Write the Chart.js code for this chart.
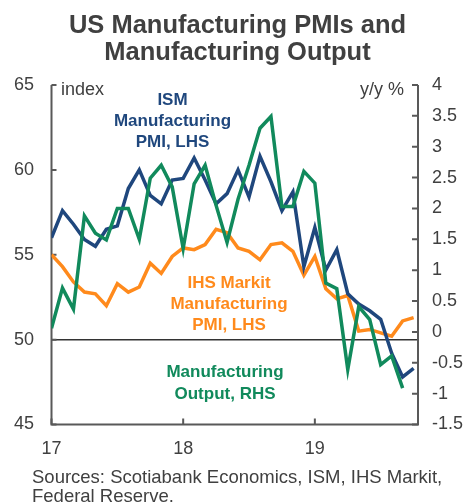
<!DOCTYPE html>
<html>
<head>
<meta charset="utf-8">
<script src="https://cdn.jsdelivr.net/npm/chart.js@4/dist/chart.umd.min.js"></script>
<style>
  html, body { margin: 0; padding: 0; background: #ffffff; }
  #wrap { width: 471px; height: 504px; }
</style>
</head>
<body>
<div id="wrap"><canvas id="c" width="471" height="504"></canvas></div>
<script>
// Monthly data, Jan 2017 .. Oct 2019
const monthIndex = Array.from({length: 34}, (_, i) => i);
const yearTickLabels = ['17', '18', '19'];
const yearTickValues = [0, 12, 24];

const ismPMI = [56.0, 57.6, 56.8, 55.9, 55.5, 56.5, 56.7, 58.9, 60.0, 58.5, 58.0, 59.4,
                59.5, 60.7, 59.4, 58.0, 58.6, 60.0, 58.4, 60.8, 59.3, 57.6, 58.7, 54.3,
                56.6, 54.1, 55.3, 52.7, 52.1, 51.7, 51.2, 49.2, 47.8, 48.3];
const ihsPMI = [55.0, 54.3, 53.4, 52.8, 52.7, 52.0, 53.3, 52.8, 53.1, 54.5, 53.9, 54.9,
                55.4, 55.3, 55.6, 56.5, 56.3, 55.4, 55.2, 54.7, 55.6, 55.7, 55.2, 53.8,
                54.9, 53.0, 52.4, 52.6, 50.5, 50.6, 50.4, 50.2, 51.1, 51.3];
const mfgOutput = [0.06, 0.71, 0.37, 1.88, 1.60, 1.49, 2.00, 2.00, 1.50, 2.49, 2.70, 2.35,
                   1.35, 2.40, 2.70, 2.05, 1.45, 2.15, 2.70, 3.30, 3.49, 2.03, 2.03, 2.60,
                   2.41, 0.79, 0.70, -0.61, 0.41, 0.20, -0.53, -0.39, -0.91];

const leftTicks = [45, 50, 55, 60, 65];
const rightMin = -1.5, rightMax = 4;

const COL_ISM = '#1F477D';
const COL_IHS = '#FF8A1C';
const COL_OUT = '#118A5C';
const TXT = '#404040';
const AXIS = '#595959';
const FONT = "'Liberation Sans', Arial, sans-serif";

const toPts = arr => arr.map((v, i) => ({x: monthIndex[i], y: v}));

const decorPlugin = {
  id: 'decor',
  beforeDatasetsDraw(chart) {
    const ctx = chart.ctx;
    const a = chart.chartArea;
    const yL = chart.scales.y;
    const yR = chart.scales.y2;
    const x = chart.scales.x;
    ctx.save();
    // 50 reference line
    const y50 = yL.getPixelForValue(50);
    ctx.strokeStyle = '#333333';
    ctx.lineWidth = 1.5;
    ctx.beginPath();
    ctx.moveTo(a.left, y50);
    ctx.lineTo(a.right, y50);
    ctx.stroke();
    // axes
    ctx.strokeStyle = AXIS;
    ctx.lineWidth = 2;
    ctx.beginPath();
    ctx.moveTo(a.left, a.top);
    ctx.lineTo(a.left, a.bottom);
    ctx.lineTo(a.right, a.bottom);
    ctx.lineTo(a.right, a.top);
    ctx.stroke();
    // inward tick marks
    ctx.beginPath();
    yL.ticks.forEach(t => {
      const p = yL.getPixelForValue(t.value);
      ctx.moveTo(a.left, p); ctx.lineTo(a.left + 5, p);
    });
    yR.ticks.forEach(t => {
      const p = yR.getPixelForValue(t.value);
      ctx.moveTo(a.right, p); ctx.lineTo(a.right - 6, p);
    });
    yearTickValues.forEach(v => {
      const p = x.getPixelForValue(v);
      ctx.moveTo(p, a.bottom); ctx.lineTo(p, a.bottom - 6);
    });
    ctx.stroke();
    ctx.restore();
  },
  afterDraw(chart) {
    const ctx = chart.ctx;
    ctx.save();
    // Title
    ctx.fillStyle = TXT;
    ctx.textAlign = 'center';
    ctx.textBaseline = 'alphabetic';
    ctx.font = "bold 25.5px " + FONT;
    ctx.fillText('US Manufacturing PMIs and', 237.5, 33);
    ctx.fillText('Manufacturing Output', 237.5, 60);
    // axis unit labels
    ctx.font = "18px " + FONT;
    ctx.textAlign = 'left';
    ctx.fillText('index', 61, 95);
    ctx.textAlign = 'right';
    ctx.fillText('y/y %', 404, 95);
    // series annotations
    ctx.font = "bold 17px " + FONT;
    ctx.textAlign = 'center';
    ctx.fillStyle = COL_ISM;
    ctx.fillText('ISM', 172.5, 105);
    ctx.fillText('Manufacturing', 172.5, 126);
    ctx.fillText('PMI, LHS', 172.5, 147);
    ctx.fillStyle = COL_IHS;
    ctx.fillText('IHS Markit', 229, 288);
    ctx.fillText('Manufacturing', 229, 309);
    ctx.fillText('PMI, LHS', 229, 330);
    ctx.fillStyle = COL_OUT;
    ctx.fillText('Manufacturing', 225, 377);
    ctx.fillText('Output, RHS', 225, 399);
    // source
    ctx.fillStyle = TXT;
    ctx.font = "18.5px " + FONT;
    ctx.textAlign = 'left';
    ctx.fillText('Sources: Scotiabank Economics, ISM, IHS Markit,', 32, 483);
    ctx.fillText('Federal Reserve.', 32, 502);
    ctx.restore();
  }
};

new Chart(document.getElementById('c'), {
  type: 'line',
  data: {
    datasets: [
      { label: 'Manufacturing Output, RHS', data: toPts(mfgOutput), yAxisID: 'y2',
        borderColor: COL_OUT, borderWidth: 3.5, pointRadius: 0, tension: 0, fill: false },
      { label: 'ISM Manufacturing PMI, LHS', data: toPts(ismPMI), yAxisID: 'y',
        borderColor: COL_ISM, borderWidth: 3.5, pointRadius: 0, tension: 0, fill: false },
      { label: 'IHS Markit Manufacturing PMI, LHS', data: toPts(ihsPMI), yAxisID: 'y',
        borderColor: COL_IHS, borderWidth: 3.5, pointRadius: 0, tension: 0, fill: false }
    ]
  },
  options: {
    responsive: false,
    animation: false,
    devicePixelRatio: 1,
    layout: { padding: { top: 85, left: 0, right: 0, bottom: 0 } },
    plugins: { legend: { display: false }, title: { display: false }, tooltip: { enabled: false } },
    scales: {
      x: {
        type: 'linear', min: 0, max: 33.4,
        grid: { display: false, drawTicks: false },
        border: { display: false },
        afterBuildTicks: s => { s.ticks = yearTickValues.map(v => ({value: v})); },
        afterFit: s => { s.height = 79.5; },
        ticks: {
          padding: 14, color: TXT, font: { family: FONT, size: 18 },
          maxRotation: 0, autoSkip: false,
          callback: v => { const i = yearTickValues.indexOf(v); return i >= 0 ? yearTickLabels[i] : ''; }
        }
      },
      y: {
        type: 'linear', position: 'left', min: 45, max: 65,
        grid: { display: false, drawTicks: false },
        border: { display: false },
        afterBuildTicks: s => { s.ticks = leftTicks.map(v => ({value: v})); },
        afterFit: s => { s.width = 51.5; },
        ticks: { padding: 17.5, color: TXT, font: { family: FONT, size: 18 } }
      },
      y2: {
        type: 'linear', position: 'right', min: rightMin, max: rightMax,
        grid: { display: false, drawTicks: false },
        border: { display: false },
        afterFit: s => { s.width = 53; },
        ticks: {
          stepSize: 0.5, padding: 14, color: TXT, font: { family: FONT, size: 18 },
          callback: v => String(Math.round(v * 10) / 10)
        }
      }
    }
  },
  plugins: [decorPlugin]
});
</script>
</body>
</html>
